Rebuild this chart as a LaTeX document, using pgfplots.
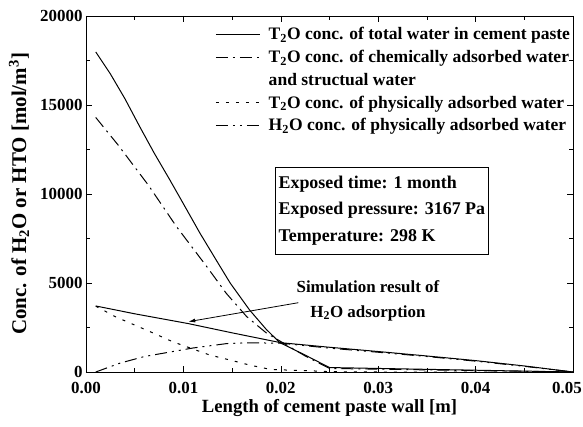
\documentclass[border=0pt]{standalone}
\usepackage{fontspec}
\setmainfont{Liberation Serif}
\usepackage{pgfplots}
\pgfplotsset{compat=1.18}
\usetikzlibrary{arrows.meta}

\begin{document}
\begin{tikzpicture}[font=\bfseries\fontsize{17}{20}\selectfont]
\begin{axis}[
  scale only axis, width=487bp, height=356bp,
  xmin=0, xmax=0.05, ymin=0, ymax=20000,
  xtick={0,0.01,0.02,0.03,0.04,0.05},
  xticklabels={0.00,0.01,0.02,0.03,0.04,\hspace*{-12bp}0.05},
  ytick={0,5000,10000,15000,20000},
  minor x tick num=1, minor y tick num=1,
  tick align=inside,
  major tick length=6bp, minor tick length=4bp,
  /pgf/number format/assume math mode=true,
  scaled x ticks=false, scaled y ticks=false,
  xticklabel style={font=\bfseries\fontsize{17}{20}\selectfont, yshift=-7bp},
  yticklabel style={font=\bfseries\fontsize{17}{20}\selectfont, /pgf/number format/fixed, /pgf/number format/1000 sep={}},
  xlabel={Length of cement paste wall [m]},
  ylabel={Conc. of H\textsubscript{2}O or HTO [mol/m\textsuperscript{3}]},
  xlabel style={at={(axis description cs:0.5,-0.101)}, anchor=center, font=\bfseries\fontsize{18.7}{22}\selectfont},
  ylabel style={at={(axis description cs:-0.1376,0.5)}, anchor=center, rotate=0, font=\bfseries\fontsize{21}{24}\selectfont},
  axis line style={line width=0.8pt},
  every tick/.style={black, line width=0.6pt},
  legend style={draw=none, fill=none, at={(axis description cs:0.265,0.974)}, anchor=north west,
    font=\bfseries\fontsize{17.6}{20}\selectfont, row sep=5bp, column sep=6.5bp, inner sep=0pt,
    cells={anchor=west}},
  legend image code/.code={\draw[#1] (0bp,0bp) -- (44bp,0bp);},
  every axis plot/.append style={black, line width=1pt},
]
% total T2O
\addplot[solid] coordinates {
(0.001,17980) (0.0025,16750) (0.004,15350) (0.0055,13800) (0.007,12300)
(0.0086,10800) (0.010,9450) (0.0117,7800) (0.0133,6350) (0.0148,5000)
(0.0168,3480) (0.0185,2400) (0.0199,1650) (0.0225,950) (0.025,250) (0.05,0)};
\addlegendentry{T\textsubscript{2}O conc. of total water in cement paste}
% chemically adsorbed T2O
\addplot[dash pattern=on 12bp off 5bp on 2bp off 5bp] coordinates {
(0.001,14300) (0.0033,12750) (0.0064,10500) (0.0093,8160) (0.0124,5920)
(0.0144,4420) (0.0165,3110) (0.0185,2200) (0.0205,1550) (0.0225,900) (0.025,200) (0.05,0)};
\addlegendentry{T\textsubscript{2}O conc. of chemically adsorbed water}
\addlegendimage{empty legend}
\addlegendentry{and structual water}
% physically adsorbed T2O
\addplot[dash pattern=on 3bp off 7bp] coordinates {
(0.001,3700) (0.003,3110) (0.0069,2190) (0.0089,1700) (0.0127,955)
(0.0148,670) (0.0168,390) (0.0189,150) (0.0206,110) (0.0225,80) (0.025,20) (0.03,0) (0.05,0)};
\addlegendentry{T\textsubscript{2}O conc. of physically adsorbed water}
% physically adsorbed H2O
\addplot[dash pattern=on 12bp off 5bp on 2bp off 5bp on 2bp off 5bp] coordinates {
(0.001,0) (0.0035,500) (0.006,870) (0.011,1350) (0.0145,1600) (0.0165,1640)
(0.02,1620) (0.025,1340) (0.03,1110) (0.035,870) (0.04,610) (0.045,320) (0.05,0)};
\addlegendentry{H\textsubscript{2}O conc. of physically adsorbed water}
% simulation result of H2O adsorption
\addplot[solid, forget plot] coordinates {
(0.001,3710) (0.005,3270) (0.0105,2720) (0.015,2200) (0.02,1646)
(0.025,1390) (0.03,1150) (0.035,900) (0.04,640) (0.045,340) (0.05,0)};

\node[draw, line width=0.6pt, anchor=north west, minimum width=207bp, minimum height=87bp,
  align=left, font=\bfseries\fontsize{18}{26.5}\selectfont]
  at (axis description cs:0.388,0.577)
  {Exposed time: 1 month\\Exposed pressure: 3167 Pa\\Temperature: 298 K};
\node[align=center, font=\bfseries\fontsize{17}{25}\selectfont] at (axis cs:0.02895,4020)
  {Simulation result of\\H\textsubscript{2}O adsorption};
\draw[line width=0.8pt, -{Latex[length=7bp,width=4bp]}] (axis cs:0.0218,3893) -- (axis cs:0.0105,2826);
\end{axis}
\pgfresetboundingbox
\useasboundingbox (-86bp,-55bp) rectangle (497bp,372bp);
\end{tikzpicture}
\end{document}
